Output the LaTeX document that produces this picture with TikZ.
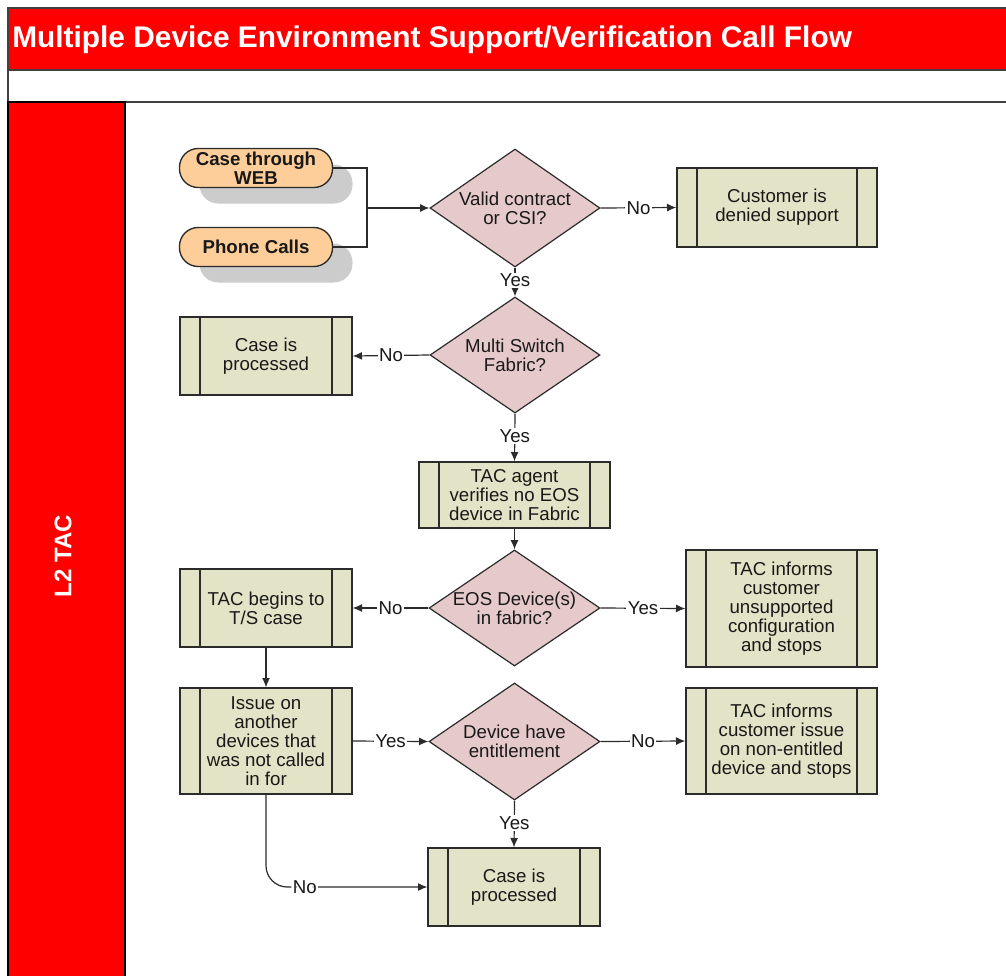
\documentclass[tikz,border=0pt]{standalone}
\usepackage{fontspec}
\setmainfont{Liberation Sans}
\usetikzlibrary{shapes.geometric,arrows.meta,shadows}
\definecolor{tred}{HTML}{FF0000}
\definecolor{boxfill}{HTML}{E3E3C7}
\definecolor{diafill}{HTML}{E6C9CB}
\definecolor{termfill}{HTML}{FDCE9A}
\definecolor{linec}{HTML}{2B2B2B}
\definecolor{framec}{HTML}{404040}
\begin{document}
\begin{tikzpicture}[x=0.75pt,y=-0.75pt,
  every node/.style={font=\fontsize{14}{14.3}\selectfont, text=black!90},
  proc/.style={draw=linec, line width=1pt, fill=boxfill, align=center, inner sep=0pt,
    path picture={\draw[linec, line width=1pt]
      ([xshift=15pt]path picture bounding box.north west) -- ([xshift=15pt]path picture bounding box.south west)
      ([xshift=-15pt]path picture bounding box.north east) -- ([xshift=-15pt]path picture bounding box.south east);}},
  dia/.style={shape=diamond, draw=linec, line width=0.9pt, fill=diafill, inner sep=0pt},
  term/.style={draw=linec, line width=1pt, fill=termfill, rounded corners=14pt, align=center,
    inner sep=0pt, font=\fontsize{14}{14.3}\selectfont\bfseries,
    general shadow={fill=black!20, shadow xshift=15pt, shadow yshift=-12pt}},
  conn/.style={draw=linec, line width=0.9pt},
  arr/.style={conn, -{Latex[length=7pt,width=6pt]}},
  lab/.style={fill=white, inner sep=1pt}
]
\useasboundingbox (0,0) rectangle (1006,975);
\clip (0,0) rectangle (1006,975);
% frame
\fill[white] (0,0) rectangle (1006,975);
\draw[framec, line width=1.2pt, fill=tred] (8,8) rectangle (1015,70);
\draw[framec, line width=1.2pt, fill=white] (8,70) rectangle (1015,102);
\draw[black, line width=1.2pt, fill=tred] (8,102) rectangle (125,985);
\node[anchor=base west, inner sep=0pt, text=white, font=\fontsize{22.4}{26}\selectfont\bfseries] (title) at (12,47)
  {Multiple Device Environment Support/Verification Call Flow};
\node[rotate=90, inner sep=0pt, text=white, font=\fontsize{18}{20}\selectfont\bfseries] (lane) at (63,556) {L2 TAC};

% nodes
\node[term, minimum width=153*0.75pt, minimum height=39*0.75pt] (web) at (256,168) {Case through\\WEB};
\node[term, minimum width=153*0.75pt, minimum height=39*0.75pt] (phone) at (256,247) {Phone Calls};
\coordinate (j) at (367,208);

\node[dia, minimum width=170*0.75pt, minimum height=118*0.75pt,
  label={[align=center]center:{Valid contract\\or CSI?}}] (d1) at (515,208) {};
\node[proc, minimum width=200*0.75pt, minimum height=79*0.75pt] (den) at (777,207.5) {Customer is\\denied support};

\node[dia, minimum width=170*0.75pt, minimum height=116*0.75pt,
  label={[align=center]center:{Multi Switch\\Fabric?}}] (d2) at (515,355) {};
\node[proc, minimum width=172*0.75pt, minimum height=78*0.75pt] (cp1) at (266,356) {Case is\\processed};

\node[proc, minimum width=191*0.75pt, minimum height=66*0.75pt] (tac1) at (514.5,495) {TAC agent\\verifies no EOS\\device in Fabric};

\node[dia, minimum width=171*0.75pt, minimum height=116*0.75pt,
  label={[align=center]center:{EOS Device(s)\\in fabric?}}] (d3) at (514.5,608) {};
\node[proc, minimum width=172*0.75pt, minimum height=78*0.75pt] (ts) at (266,608) {TAC begins to\\T/S case};
\node[proc, minimum width=191*0.75pt, minimum height=117*0.75pt] (inf1) at (781.5,608.5) {TAC informs\\customer\\unsupported\\configuration\\and stops};

\node[proc, minimum width=172*0.75pt, minimum height=106*0.75pt] (issue) at (266,741) {Issue on\\another\\devices that\\was not called\\in for};
\node[dia, minimum width=171*0.75pt, minimum height=117*0.75pt,
  label={[align=center]center:{Device have\\entitlement}}] (d4) at (514.5,741.5) {};
\node[proc, minimum width=191*0.75pt, minimum height=106*0.75pt] (inf2) at (781.5,741) {TAC informs\\customer issue\\on non-entitled\\device and stops};

\node[proc, minimum width=172*0.75pt, minimum height=78*0.75pt] (cp2) at (514,887) {Case is\\processed};

% connectors
\draw[conn] (web.east) -| (j);
\draw[conn] (phone.east) -| (j);
\draw[arr] (j) -- (d1.west);
\draw[arr] (d1.east) -- node[lab] {No} (den.west);
\draw[arr] (d1.south) -- node[lab, pos=0.45] {Yes} (d2.north);
\draw[arr] (d2.west) -- node[lab] {No} (cp1.east);
\draw[arr] (d2.south) -- node[lab, pos=0.47] {Yes} (tac1.north);
\draw[arr] (tac1.south) -- (d3.north);
\draw[arr] (d3.west) -- node[lab] {No} (ts.east);
\draw[arr] (d3.east) -- node[lab] {Yes} (inf1.west);
\draw[arr] (ts.south) -- (issue.north);
\draw[arr] (issue.east) -- node[lab] {Yes} (d4.west);
\draw[arr] (d4.east) -- node[lab] {No} (inf2.west);
\draw[arr] (d4.south) -- node[lab, pos=0.48] {Yes} (cp2.north);
\draw[arr, rounded corners=16pt] (issue.south) |- node[lab, pos=0.62] {No} (cp2.west);
\end{tikzpicture}
\end{document}
